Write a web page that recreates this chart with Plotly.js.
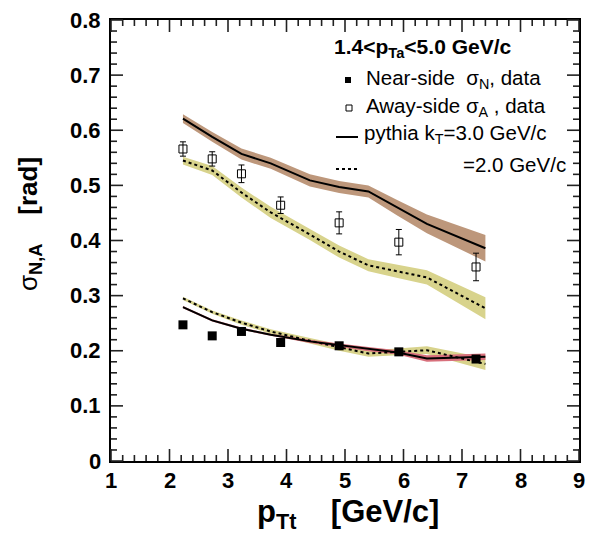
<!DOCTYPE html>
<html><head><meta charset="utf-8">
<script src="https://cdn.plot.ly/plotly-3.0.1.min.js"></script>
<style>body{margin:0;background:#fff}</style>
</head><body><div id="c"></div>
<script>
// Data points
const nearX = [2.23, 2.73, 3.23, 3.90, 4.90, 5.92, 7.24];
const nearY = [0.247, 0.227, 0.235, 0.215, 0.209, 0.198, 0.185];
const awayX = [2.23, 2.73, 3.23, 3.90, 4.90, 5.92, 7.24];
const awayY = [0.566, 0.548, 0.521, 0.464, 0.432, 0.397, 0.352];
const awayErr = [0.013, 0.013, 0.016, 0.015, 0.020, 0.023, 0.025];

// PYTHIA curves
const pyX = [2.23, 2.73, 3.23, 3.73, 4.4, 4.9, 5.4, 5.9, 6.4, 7.4];
const awayK3 = [0.621, 0.588, 0.557, 0.540, 0.509, 0.497, 0.489, 0.459, 0.430, 0.386];
const awayK3Err = [0.008, 0.009, 0.010, 0.010, 0.011, 0.011, 0.011, 0.014, 0.017, 0.024];
const awayK2 = [0.545, 0.527, 0.487, 0.451, 0.411, 0.380, 0.355, 0.344, 0.333, 0.277];
const awayK2Err = [0.007, 0.008, 0.009, 0.010, 0.010, 0.011, 0.011, 0.012, 0.013, 0.020];
const nearK3 = [0.279, 0.255, 0.240, 0.229, 0.217, 0.210, 0.203, 0.197, 0.186, 0.189];
const nearK3Err = [0.002, 0.002, 0.002, 0.002, 0.003, 0.003, 0.004, 0.004, 0.006, 0.006];
const nearK2 = [0.295, 0.270, 0.251, 0.235, 0.218, 0.206, 0.195, 0.198, 0.201, 0.176];
const nearK2Err = [0.003, 0.003, 0.004, 0.004, 0.005, 0.006, 0.006, 0.006, 0.007, 0.011];

// Axis tick labels
const xTicks = [1, 2, 3, 4, 5, 6, 7, 8, 9];
const xTickText = ['1', '2', '3', '4', '5', '6', '7', '8', '9'];
const yTicks = [0, 0.1, 0.2, 0.3, 0.4, 0.5, 0.6, 0.7, 0.8];
const yTickText = ['0', '0.1', '0.2', '0.3', '0.4', '0.5', '0.6', '0.7', '0.8'];

function band(x, y, e, color) {
  const xs = x.concat(x.slice().reverse());
  const up = y.map((v, i) => v + e[i]);
  const lo = y.map((v, i) => v - e[i]).reverse();
  return {x: xs, y: up.concat(lo), type: 'scatter', mode: 'none', fill: 'toself',
          fillcolor: color, line: {width: 0}, hoverinfo: 'skip', showlegend: false};
}
function curve(x, y, dash) {
  return {x: x, y: y, type: 'scatter', mode: 'lines',
          line: {color: '#000', width: 2, dash: dash}, showlegend: false};
}

const BROWN = '#bd977b', YEL = '#d8d38c', RED = '#d8707c';

const traces = [
  band(pyX, awayK3, awayK3Err, BROWN),
  band(pyX, awayK2, awayK2Err, YEL),
  band(pyX, nearK2, nearK2Err, YEL),
  band(pyX, nearK3, nearK3Err, RED),
  curve(pyX, awayK3, 'solid'),
  curve(pyX, awayK2, '3px,3px'),
  curve(pyX, nearK3, 'solid'),
  curve(pyX, nearK2, '3px,3px'),
  {x: awayX, y: awayY, type: 'scatter', mode: 'markers',
   marker: {symbol: 'square-open', size: 8, color: '#000', line: {width: 1}},
   error_y: {type: 'data', array: awayErr, visible: true, color: '#000', thickness: 1, width: 3},
   showlegend: false},
  {x: nearX, y: nearY, type: 'scatter', mode: 'markers',
   marker: {symbol: 'square', size: 9, color: '#000'}, showlegend: false}
];

const CW = 595, CH = 539, ML = 111, MR = 16, MT = 20, MB = 78;
const pw = CW - ML - MR, ph = CH - MT - MB;
const toPX = v => (v - ML) / pw;
const toPY = v => (CH - MB - v) / ph;
const X_RANGE = [1, 9], Y_RANGE = [0, 0.8];
const xFrac = v => (v - X_RANGE[0]) / (X_RANGE[1] - X_RANGE[0]);
const yFrac = v => (v - Y_RANGE[0]) / (Y_RANGE[1] - Y_RANGE[0]);

const FAM = 'Liberation Sans';

// Tick marks (major and minor, on all four sides)
const shapes = [];
const tickLine = (x0, x1, y0, y1) =>
  shapes.push({type: 'line', xref: 'paper', yref: 'paper', x0: x0, x1: x1, y0: y0, y1: y1,
               line: {color: '#222', width: 1.6}});
const majX = 12 / ph, minX = 6 / ph, majY = 12 / pw, minY = 6 / pw;
for (let i = 0; i <= 40; i++) {
  const f = xFrac(1 + i * 0.2), l = (i % 5 === 0) ? majX : minX;
  tickLine(f, f, 0, l);
  tickLine(f, f, 1, 1 - l);
}
for (let i = 0; i <= 40; i++) {
  const f = yFrac(i * 0.02), l = (i % 5 === 0) ? majY : minY;
  tickLine(0, l, f, f);
  tickLine(1, 1 - l, f, f);
}
// Legend symbols
shapes.push(
  {type: 'rect', xref: 'paper', yref: 'paper', x0: toPX(345), x1: toPX(351), y0: toPY(83), y1: toPY(77),
   fillcolor: '#000', line: {width: 0}},
  {type: 'rect', xref: 'paper', yref: 'paper', x0: toPX(346), x1: toPX(352), y0: toPY(111), y1: toPY(105),
   fillcolor: 'rgba(0,0,0,0)', line: {color: '#000', width: 1}},
  {type: 'line', xref: 'paper', yref: 'paper', x0: toPX(336), x1: toPX(358), y0: toPY(137), y1: toPY(137),
   line: {color: '#000', width: 2}},
  {type: 'line', xref: 'paper', yref: 'paper', x0: toPX(336), x1: toPX(358), y0: toPY(169), y1: toPY(169),
   line: {color: '#000', width: 2, dash: '3px,3px'}}
);

const annotations = [
  {xref: 'paper', yref: 'paper', x: toPX(332), y: toPY(48), xanchor: 'left', yanchor: 'middle',
   showarrow: false, text: '<b>1.4&lt;p<sub>Ta</sub>&lt;5.0 GeV/c</b>', font: {size: 21}},
  {xref: 'paper', yref: 'paper', x: toPX(364), y: toPY(79), xanchor: 'left', yanchor: 'middle',
   showarrow: false, text: 'Near-side  σ<sub>N</sub>, data', font: {size: 20.5}},
  {xref: 'paper', yref: 'paper', x: toPX(364), y: toPY(107), xanchor: 'left', yanchor: 'middle',
   showarrow: false, text: 'Away-side σ<sub>A</sub> , data', font: {size: 20.5}},
  {xref: 'paper', yref: 'paper', x: toPX(362), y: toPY(134), xanchor: 'left', yanchor: 'middle',
   showarrow: false, text: 'pythia k<sub>T</sub>=3.0 GeV/c', font: {size: 20.5}},
  {xref: 'paper', yref: 'paper', x: toPX(568), y: toPY(165), xanchor: 'right', yanchor: 'middle',
   showarrow: false, text: '=2.0 GeV/c', font: {size: 20.5}},
  {xref: 'paper', yref: 'paper', x: toPX(348), y: toPY(514), xanchor: 'center', yanchor: 'middle',
   showarrow: false, text: '<b>p<sub>Tt</sub>    [GeV/c]</b>', font: {size: 31}},
  {xref: 'paper', yref: 'paper', x: toPX(30), y: toPY(224), xanchor: 'center', yanchor: 'middle',
   showarrow: false, textangle: -90, text: 'σ<sub><b>N,A</b></sub>    <b>[rad]</b>', font: {size: 26}}
];
// Tick labels placed on the axes' own scales
xTicks.forEach((v, i) => annotations.push({
  xref: 'x', yref: 'paper', x: v, y: toPY(480), xanchor: 'center', yanchor: 'middle',
  showarrow: false, text: '<b>' + xTickText[i] + '</b>', font: {size: 22}}));
yTicks.forEach((v, i) => annotations.push({
  xref: 'paper', yref: 'y', x: toPX(103), y: v, xanchor: 'right', yanchor: 'middle',
  showarrow: false, text: '<b>' + yTickText[i] + '</b>', font: {size: 22}}));

const layout = {
  width: CW, height: CH,
  margin: {l: ML, r: MR, t: MT, b: MB},
  font: {family: FAM, color: '#000'},
  paper_bgcolor: '#fff', plot_bgcolor: '#fff',
  showlegend: false,
  xaxis: {range: X_RANGE, ticks: '', showticklabels: false, showline: true, linecolor: '#000',
          linewidth: 2, mirror: true, showgrid: false, zeroline: false},
  yaxis: {range: Y_RANGE, ticks: '', showticklabels: false, showline: true, linecolor: '#000',
          linewidth: 2, mirror: true, showgrid: false, zeroline: false},
  shapes: shapes,
  annotations: annotations
};

Plotly.newPlot('c', traces, layout, {staticPlot: true, displayModeBar: false});
</script>
</body></html>
